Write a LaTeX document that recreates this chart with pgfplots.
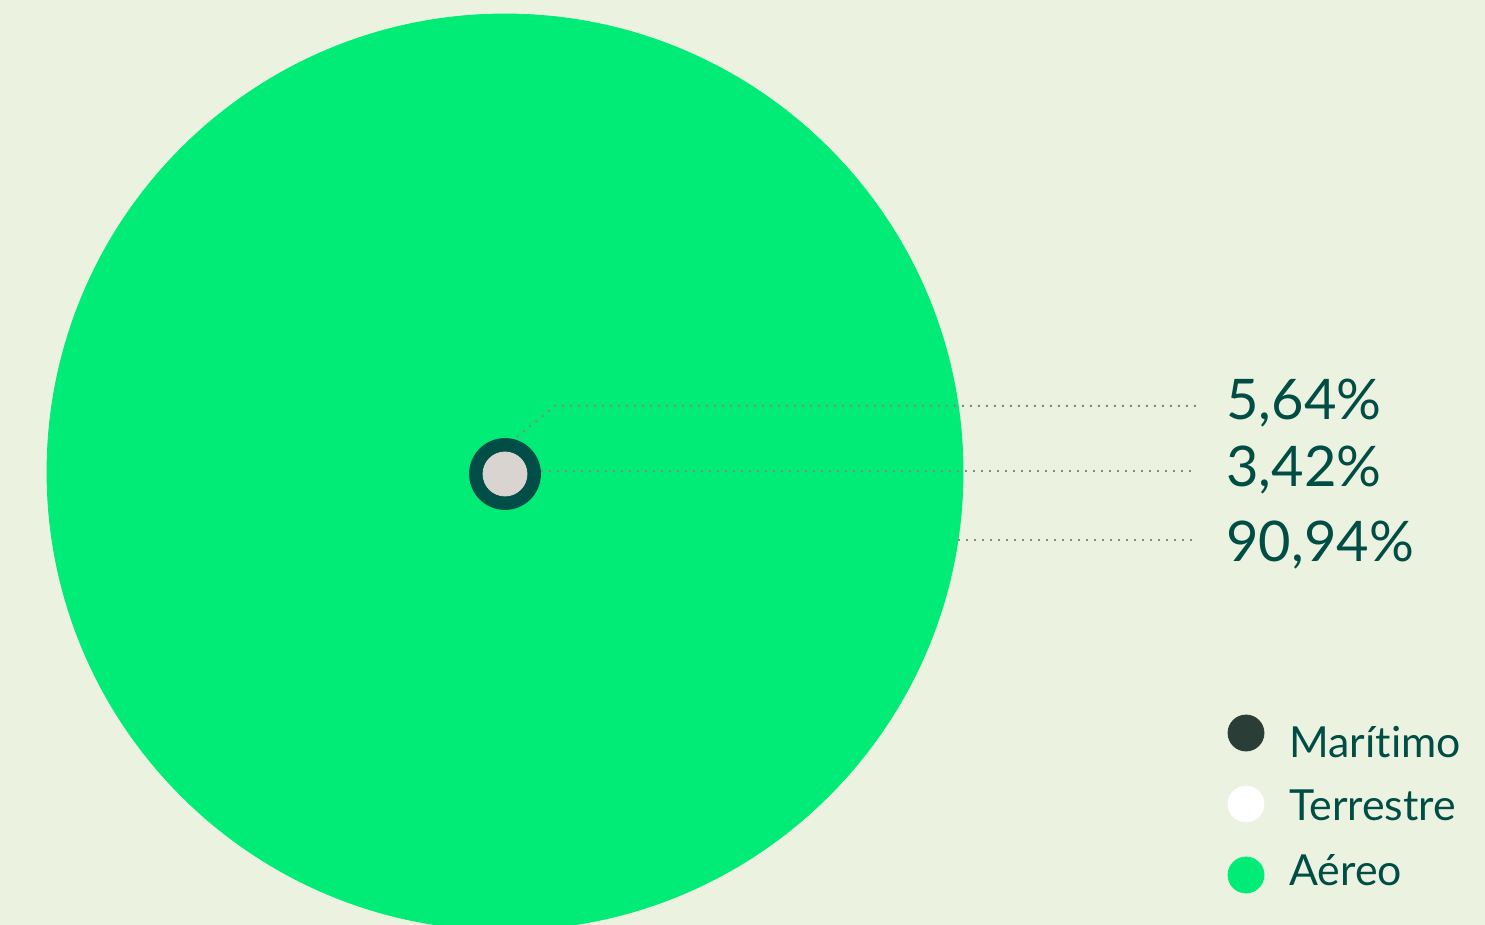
\documentclass[border=0pt]{standalone}
\usepackage{pgfplots}
\pgfplotsset{compat=1.18}
\usepackage{fontspec}
\setmainfont{Lato}[Ligatures={NoCommon}]
\definecolor{bg}{RGB}{235,242,224}
\definecolor{aereo}{RGB}{0,236,118}
\definecolor{ring}{RGB}{1,77,71}
\definecolor{inner}{RGB}{217,212,207}
\definecolor{mar}{RGB}{43,61,55}
\definecolor{txt}{RGB}{0,77,69}
\definecolor{lead}{RGB}{135,135,135}
\begin{document}
\begin{tikzpicture}
\begin{axis}[
  scale only axis, width=742.5pt, height=462.5pt,
  xmin=0, xmax=1485, ymin=0, ymax=925, y dir=reverse,
  axis line style={draw=none}, ticks=none,
  axis background/.style={fill=bg},
  clip=true, clip marker paths=true,
]
% Aereo circle
\addplot[aereo, only marks, mark=*, mark size=229pt, mark options={draw=aereo, fill=aereo}] coordinates {(505,472)};
% leader lines
\addplot[lead, line width=1pt, dash pattern=on 1pt off 3pt] coordinates {(517,437) (555,406) (1197,406)};
\addplot[lead, line width=1pt, dash pattern=on 1pt off 3pt] coordinates {(541,471) (1197,471)};
\addplot[lead, line width=1pt, dash pattern=on 1pt off 3pt] coordinates {(958,540) (1197,540)};
% Maritimo ring and Terrestre circle
\addplot[ring, only marks, mark=*, mark size=17.75pt, mark options={draw=ring, fill=ring}] coordinates {(505,474)};
\addplot[inner, only marks, mark=*, mark size=11pt, mark options={draw=inner, fill=inner}] coordinates {(505,474)};
% value labels
\node[anchor=base west, inner sep=0pt, text=txt, font=\fontsize{28}{28}\selectfont] at (axis cs:1226,420) {5,64\%};
\node[anchor=base west, inner sep=0pt, text=txt, font=\fontsize{28}{28}\selectfont] at (axis cs:1226,487) {3,42\%};
\node[anchor=base west, inner sep=0pt, text=txt, font=\fontsize{28}{28}\selectfont] at (axis cs:1226,561) {90,94\%};
% legend
\addplot[mar, only marks, mark=*, mark size=9pt, mark options={draw=mar, fill=mar}] coordinates {(1246,733)};
\addplot[white, only marks, mark=*, mark size=9pt, mark options={draw=white, fill=white}] coordinates {(1246,804)};
\addplot[aereo, only marks, mark=*, mark size=9pt, mark options={draw=aereo, fill=aereo}] coordinates {(1246,875)};
\node[anchor=base west, inner sep=0pt, text=txt, font=\fontsize{21.4}{21.4}\selectfont] at (axis cs:1289,757) {Marítimo};
\node[anchor=base west, inner sep=0pt, text=txt, font=\fontsize{21.4}{21.4}\selectfont] at (axis cs:1289,820) {Terrestre};
\node[anchor=base west, inner sep=0pt, text=txt, font=\fontsize{21.4}{21.4}\selectfont] at (axis cs:1289,885) {Aéreo};
\end{axis}
\end{tikzpicture}
\end{document}
